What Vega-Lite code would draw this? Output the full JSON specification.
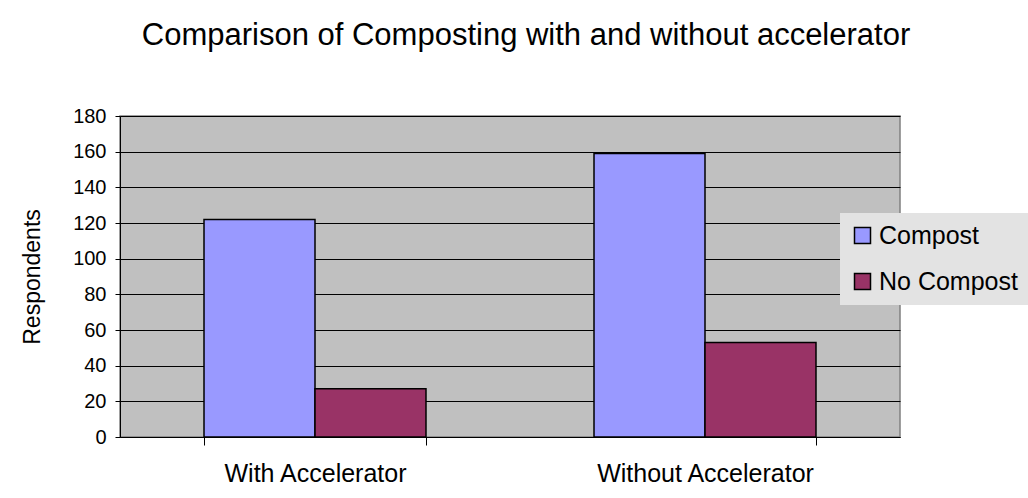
{
  "$schema": "https://vega.github.io/schema/vega-lite/v6.json",
  "autosize": {"type": "none"},
  "width": 780,
  "height": 321,
  "padding": {"left": 120, "top": 116, "right": 128, "bottom": 61},
  "background": "white",
  "title": {
    "text": "Comparison of Composting with and without accelerator",
    "fontSize": 31,
    "font": "Liberation Sans",
    "fontWeight": "normal",
    "color": "black",
    "anchor": "middle",
    "frame": "group",
    "dx": 16,
    "baseline": "alphabetic",
    "offset": 30
  },
  "data": {
    "values": [
      {"group": "With Accelerator", "type": "Compost", "value": 122},
      {"group": "With Accelerator", "type": "No Compost", "value": 27},
      {"group": "Without Accelerator", "type": "Compost", "value": 159},
      {"group": "Without Accelerator", "type": "No Compost", "value": 53}
    ]
  },
  "mark": {"type": "bar", "stroke": "black", "strokeWidth": 1.5},
  "encoding": {
    "x": {
      "field": "group",
      "type": "nominal",
      "sort": ["With Accelerator", "Without Accelerator"],
      "scale": {"paddingInner": 0.4308, "paddingOuter": 0.2154},
      "axis": {
        "title": null,
        "labelAngle": 0,
        "labelFontSize": 25,
        "labelFont": "Liberation Sans",
        "labelColor": "black",
        "labelBaseline": "alphabetic",
        "labelPadding": 36,
        "labelLimit": 400,
        "tickBand": "extent",
        "tickSize": 8,
        "tickColor": "black",
        "domainColor": "black",
        "domainWidth": 1,
        "grid": false
      }
    },
    "xOffset": {
      "field": "type",
      "type": "nominal",
      "sort": ["Compost", "No Compost"],
      "scale": {"paddingInner": 0, "paddingOuter": 0}
    },
    "y": {
      "field": "value",
      "type": "quantitative",
      "scale": {"domain": [0, 180], "nice": false},
      "axis": {
        "title": "Respondents",
        "titleFontSize": 23,
        "titleFont": "Liberation Sans",
        "titleFontWeight": "normal",
        "titleColor": "black",
        "titleAngle": 270,
        "titleX": -81,
        "titleY": 160.5,
        "titleAlign": "center",
        "titleBaseline": "alphabetic",
        "values": [0, 20, 40, 60, 80, 100, 120, 140, 160, 180],
        "labelFontSize": 20,
        "labelFont": "Liberation Sans",
        "labelColor": "black",
        "labelPadding": 9,
        "tickSize": 5,
        "tickColor": "black",
        "domainColor": "black",
        "grid": true,
        "gridColor": "black",
        "gridWidth": 1,
        "gridOpacity": 1
      }
    },
    "color": {
      "field": "type",
      "type": "nominal",
      "sort": ["Compost", "No Compost"],
      "scale": {"domain": ["Compost", "No Compost"], "range": ["#9999ff", "#993366"]},
      "legend": {
        "title": null,
        "orient": "none",
        "legendX": 720,
        "legendY": 97,
        "padding": 10,
        "fillColor": "#e3e3e3",
        "symbolType": "square",
        "symbolSize": 256,
        "symbolStrokeColor": "black",
        "symbolStrokeWidth": 1.5,
        "symbolOpacity": 1,
        "labelFontSize": 25,
        "labelFont": "Liberation Sans",
        "labelColor": "black",
        "labelOffset": 4,
        "rowPadding": 20,
        "labelLimit": 300
      }
    }
  },
  "config": {
    "view": {"fill": "#c0c0c0", "stroke": "#808080", "strokeWidth": 1.5}
  }
}
